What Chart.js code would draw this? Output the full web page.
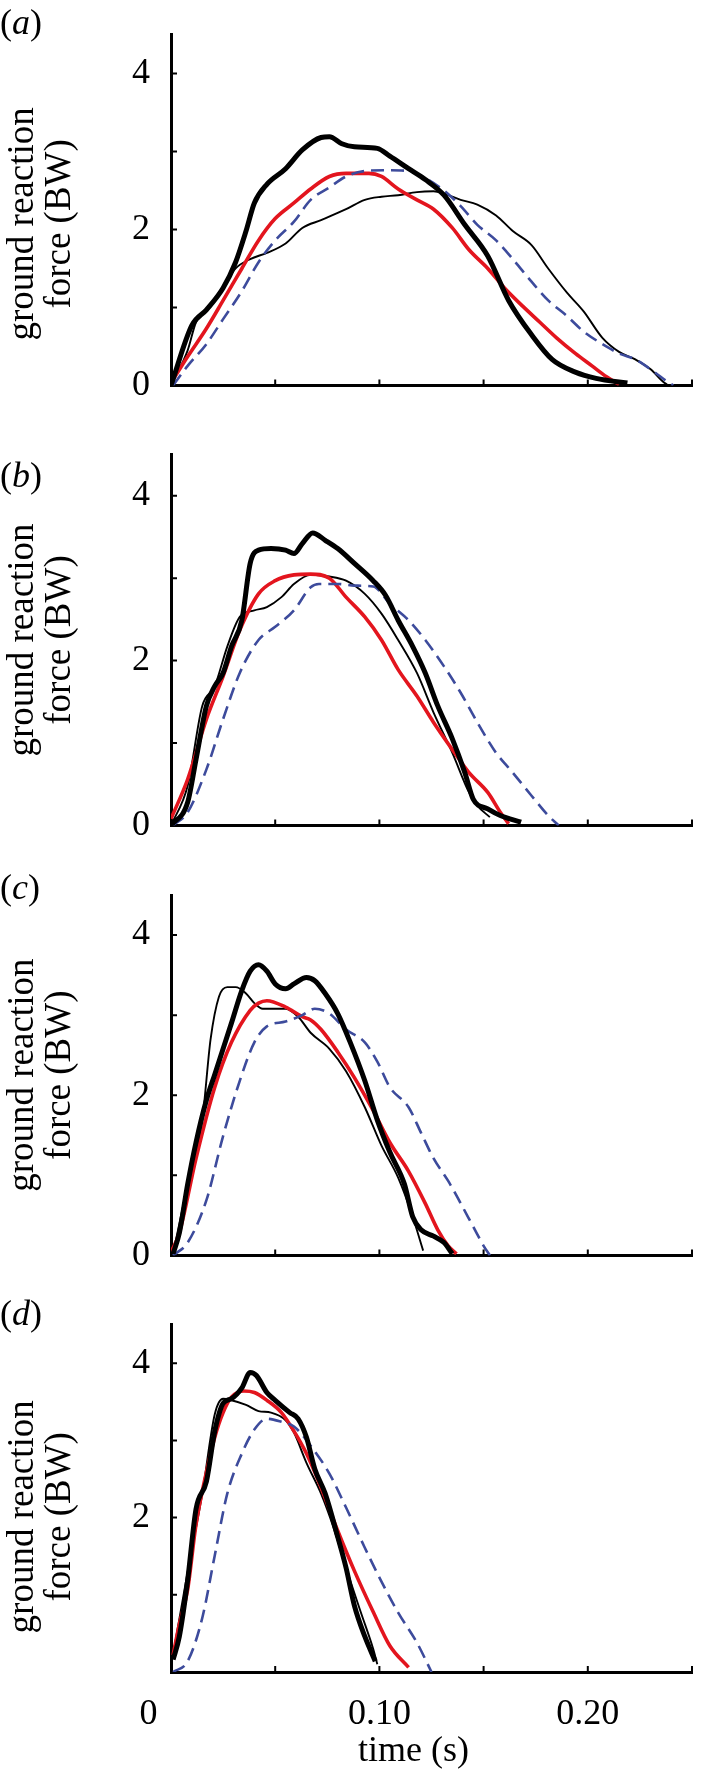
<!DOCTYPE html>
<html>
<head>
<meta charset="utf-8">
<script src="https://cdn.jsdelivr.net/npm/chart.js@4"></script>
<style>
  html, body { margin: 0; padding: 0; background: #fff; }
  #wrap { position: relative; width: 705px; height: 1770px; overflow: hidden; }
  .panel { position: absolute; left: 0; width: 705px; }
  .lab { position: absolute; left: 0; font-family: 'Liberation Serif', 'Times New Roman', serif; font-size: 36px; line-height: 36px; color: #000; }
  .lab i { font-style: italic; }
</style>
</head>
<body>
<div id="wrap"></div>
<script>
// ---------- DATA (time in s, force in BW) ----------
// Panel (a)
const aThickT = [0.000,0.010,0.017,0.025,0.031,0.036,0.040,0.046,0.055,0.063,0.072,0.076,0.082,0.088,0.099,0.105,0.114,0.122,0.131,0.141,0.152,0.162,0.173,0.183,0.194,0.204,0.219];
const aThickF = [0.00,0.77,0.97,1.25,1.58,1.98,2.34,2.58,2.78,3.02,3.18,3.19,3.10,3.06,3.04,2.94,2.78,2.64,2.44,2.06,1.66,1.09,0.65,0.33,0.17,0.09,0.03];
const aThinT  = [0.000,0.008,0.012,0.019,0.025,0.031,0.038,0.046,0.055,0.063,0.072,0.084,0.093,0.101,0.109,0.118,0.126,0.131,0.139,0.147,0.156,0.164,0.173,0.181,0.190,0.198,0.207,0.215,0.223,0.230,0.236,0.238];
const aThinF  = [0.00,0.45,0.81,1.01,1.25,1.50,1.62,1.70,1.82,2.02,2.12,2.26,2.38,2.42,2.44,2.48,2.49,2.46,2.38,2.32,2.18,1.98,1.80,1.50,1.19,0.95,0.61,0.43,0.33,0.21,0.05,0.01];
const aRedT   = [0.000,0.008,0.017,0.025,0.034,0.042,0.050,0.059,0.067,0.076,0.084,0.095,0.101,0.109,0.118,0.126,0.135,0.143,0.152,0.160,0.169,0.177,0.185,0.194,0.202,0.209,0.215];
const aRedF   = [0.03,0.37,0.73,1.09,1.50,1.86,2.14,2.34,2.52,2.68,2.72,2.72,2.68,2.52,2.38,2.26,2.02,1.74,1.50,1.25,1.01,0.81,0.61,0.41,0.25,0.11,0.01];
const aBlueT  = [0.001,0.008,0.017,0.025,0.034,0.042,0.050,0.059,0.067,0.076,0.084,0.093,0.105,0.114,0.122,0.131,0.139,0.147,0.156,0.164,0.173,0.181,0.190,0.198,0.207,0.215,0.223,0.232,0.238,0.241];
const aBlueF  = [0.00,0.25,0.53,0.85,1.21,1.58,1.86,2.10,2.38,2.54,2.68,2.75,2.76,2.75,2.66,2.50,2.30,2.06,1.86,1.62,1.33,1.09,0.89,0.69,0.53,0.41,0.33,0.17,0.05,0.00];
// Panel (b)
const bThickT = [0.000,0.008,0.012,0.017,0.021,0.025,0.029,0.034,0.038,0.042,0.048,0.055,0.059,0.063,0.068,0.074,0.080,0.088,0.097,0.103,0.109,0.116,0.122,0.128,0.135,0.141,0.145,0.152,0.158,0.168];
const bThickF = [0.00,0.28,0.80,1.45,1.69,1.85,2.17,2.49,3.18,3.34,3.36,3.34,3.30,3.42,3.55,3.46,3.36,3.18,2.97,2.79,2.49,2.17,1.85,1.45,1.05,0.64,0.32,0.20,0.12,0.04];
const bThinT  = [0.000,0.008,0.015,0.021,0.027,0.033,0.040,0.046,0.053,0.059,0.067,0.076,0.084,0.093,0.101,0.109,0.118,0.126,0.135,0.143,0.147,0.153];
const bThinF  = [0.00,0.48,1.45,1.69,2.17,2.53,2.61,2.65,2.77,2.93,3.04,3.02,2.97,2.81,2.57,2.25,1.85,1.37,0.88,0.40,0.24,0.10];
const bRedT   = [0.000,0.008,0.017,0.025,0.033,0.042,0.050,0.059,0.067,0.076,0.084,0.093,0.101,0.109,0.118,0.126,0.135,0.143,0.152,0.158,0.162];
const bRedF   = [0.08,0.56,1.29,1.81,2.37,2.81,2.97,3.04,3.05,3.00,2.77,2.53,2.25,1.89,1.57,1.25,0.92,0.64,0.40,0.16,0.02];
const bBlueT  = [0.001,0.008,0.017,0.025,0.033,0.042,0.050,0.059,0.067,0.071,0.080,0.088,0.097,0.105,0.114,0.122,0.131,0.139,0.147,0.156,0.164,0.173,0.181,0.186];
const bBlueF  = [0.00,0.16,0.68,1.29,1.85,2.25,2.41,2.61,2.89,2.93,2.93,2.91,2.90,2.69,2.49,2.25,1.93,1.61,1.25,0.88,0.64,0.36,0.12,0.00];
// Panel (c)
const cThickT = [0.001,0.004,0.008,0.012,0.017,0.021,0.025,0.029,0.034,0.038,0.042,0.046,0.050,0.055,0.059,0.065,0.069,0.074,0.080,0.086,0.093,0.099,0.105,0.112,0.116,0.120,0.126,0.131,0.135];
const cThickF = [0.02,0.28,0.89,1.41,1.94,2.26,2.58,2.90,3.31,3.55,3.63,3.55,3.39,3.33,3.39,3.47,3.43,3.27,3.02,2.66,2.18,1.69,1.29,0.89,0.48,0.32,0.24,0.16,0.02];
const cThinT  = [0.001,0.008,0.015,0.019,0.023,0.027,0.031,0.036,0.040,0.044,0.055,0.061,0.067,0.076,0.084,0.093,0.101,0.109,0.116,0.121];
const cThinF  = [0.02,0.89,1.69,2.70,3.23,3.35,3.35,3.27,3.15,3.08,3.08,2.98,2.78,2.58,2.30,1.85,1.37,0.97,0.48,0.06];
const cRedT   = [0.000,0.004,0.012,0.021,0.029,0.038,0.042,0.046,0.055,0.063,0.067,0.072,0.080,0.088,0.097,0.105,0.114,0.122,0.128,0.133,0.137];
const cRedF   = [0.04,0.28,1.21,2.10,2.66,3.06,3.15,3.18,3.10,2.98,2.94,2.82,2.54,2.22,1.81,1.41,1.05,0.65,0.32,0.12,0.02];
const cBlueT  = [0.001,0.008,0.017,0.025,0.033,0.040,0.046,0.055,0.063,0.069,0.076,0.084,0.093,0.099,0.105,0.114,0.120,0.126,0.133,0.139,0.145,0.150,0.153];
const cBlueF  = [0.00,0.16,0.69,1.49,2.18,2.66,2.86,2.92,3.00,3.08,3.02,2.82,2.66,2.42,2.10,1.85,1.53,1.21,0.93,0.65,0.36,0.12,0.00];
// Panel (d)
const dThickT = [0.001,0.004,0.008,0.012,0.017,0.021,0.025,0.029,0.034,0.038,0.041,0.046,0.050,0.057,0.061,0.065,0.069,0.074,0.080,0.084,0.088,0.093,0.098];
const dThickF = [0.16,0.46,1.19,2.11,2.47,3.12,3.48,3.54,3.68,3.88,3.84,3.62,3.52,3.36,3.28,3.04,2.63,2.31,1.75,1.35,0.86,0.46,0.14];
const dThinT  = [0.001,0.008,0.015,0.021,0.025,0.029,0.036,0.042,0.048,0.055,0.059,0.065,0.072,0.078,0.084,0.091,0.097,0.099];
const dThinF  = [0.22,1.30,2.31,3.34,3.54,3.52,3.46,3.38,3.36,3.26,3.10,2.71,2.31,1.87,1.35,0.78,0.30,0.10];
const dRedT   = [0.001,0.004,0.008,0.012,0.017,0.021,0.025,0.029,0.035,0.040,0.046,0.053,0.059,0.065,0.072,0.080,0.088,0.097,0.105,0.114];
const dRedF   = [0.22,0.62,1.07,1.91,2.59,3.04,3.36,3.56,3.64,3.62,3.52,3.36,3.12,2.83,2.39,1.83,1.31,0.78,0.34,0.06];
const dBlueT  = [0.001,0.008,0.015,0.021,0.027,0.034,0.040,0.046,0.053,0.059,0.067,0.076,0.084,0.093,0.101,0.109,0.118,0.125];
const dBlueF  = [0.00,0.14,0.70,1.51,2.31,2.83,3.14,3.28,3.24,3.18,2.93,2.57,2.13,1.61,1.17,0.77,0.38,0.00];

// Axis tick labels and titles
const yTickLabels = [0, 2, 4];
const xTickLabels = [0, 0.10, 0.20];
const panelLetters = ['a', 'b', 'c', 'd'];
const yTitleLines = ['ground reaction', 'force (BW)'];
const xTitle = 'time (s)';

// ---------- LAYOUT ----------
const panels = [
  { top: 0,    h: 420, areaTop: 25, areaBottom: 397, labY: 22, titleShift: 3,
    series: [[aThickT,aThickF],[aThinT,aThinF],[aRedT,aRedF],[aBlueT,aBlueF]] },
  { top: 420,  h: 440, areaTop: 34, areaBottom: 407, labY: 55, titleShift: 0,
    series: [[bThickT,bThickF],[bThinT,bThinF],[bRedT,bRedF],[bBlueT,bBlueF]] },
  { top: 860,  h: 430, areaTop: 35, areaBottom: 407, labY: 27, titleShift: 0,
    series: [[cThickT,cThickF],[cThinT,cThinF],[cRedT,cRedF],[cBlueT,cBlueF]] },
  { top: 1290, h: 480, areaTop: 10, areaBottom: 382, labY: 23, titleShift: 4,
    series: [[dThickT,dThickF],[dThinT,dThinF],[dRedT,dRedF],[dBlueT,dBlueF]] }
];

const styles = [
  { borderColor: '#000000', borderWidth: 5,   order: 0 },
  { borderColor: '#000000', borderWidth: 1.9, order: 3 },
  { borderColor: '#e3151e', borderWidth: 3.6, order: 2 },
  { borderColor: '#3d4b9c', borderWidth: 2.6, order: 1, borderDash: [13, 7] }
];

const FONT = "'Liberation Serif', 'Times New Roman', serif";
const near = (a, b) => Math.abs(a - b) < 1e-6;
const NB = '\u00a0';

const inwardTicks = {
  id: 'inwardTicks',
  afterDraw(chart) {
    const { ctx, chartArea: a, scales } = chart;
    const x = scales.x, y = scales.y;
    ctx.save();
    ctx.strokeStyle = '#000';
    ctx.lineWidth = 2;
    ctx.beginPath();
    x.ticks.forEach(t => {
      const px = x.getPixelForValue(t.value);
      if (px > a.left + 3 && px <= a.right + 1) { ctx.moveTo(px, a.bottom); ctx.lineTo(px, a.bottom - 6); }
    });
    y.ticks.forEach(t => {
      const py = y.getPixelForValue(t.value);
      if (py < a.bottom - 3) { ctx.moveTo(a.left, py); ctx.lineTo(a.left + 6, py); }
    });
    ctx.stroke();
    ctx.restore();
  }
};

const wrap = document.getElementById('wrap');
panels.forEach((p, idx) => {
  const isLast = idx === panels.length - 1;
  const div = document.createElement('div');
  div.className = 'panel';
  div.style.top = p.top + 'px';
  div.style.height = p.h + 'px';
  const cv = document.createElement('canvas');
  cv.width = 705; cv.height = p.h;
  cv.style.width = '705px'; cv.style.height = p.h + 'px';
  div.appendChild(cv);
  const lab = document.createElement('div');
  lab.className = 'lab';
  lab.style.top = (p.labY - 18) + 'px';
  lab.innerHTML = '(<i>' + panelLetters[idx] + '</i>)';
  div.appendChild(lab);
  wrap.appendChild(div);

  const xh = p.h - p.areaBottom;
  const datasets = p.series.map((s, i) => Object.assign({
    data: s[0].map((t, k) => ({ x: t, y: s[1][k] })),
    pointRadius: 0,
    fill: false,
    cubicInterpolationMode: 'monotone',
    borderJoinStyle: 'round',
    borderCapStyle: 'butt'
  }, styles[i]));

  new Chart(cv, {
    type: 'line',
    data: { datasets },
    plugins: [inwardTicks],
    options: {
      responsive: false,
      animation: false,
      devicePixelRatio: 1,
      layout: { padding: { top: p.areaTop, left: 0, right: 1, bottom: 0 } },
      plugins: { legend: { display: false }, tooltip: { enabled: false } },
      scales: {
        x: {
          type: 'linear', min: 0, max: 0.25,
          afterFit(s) { s.height = xh; },
          grid: { display: false },
          border: { display: true, color: '#000', width: 3 },
          ticks: {
            stepSize: 0.05, autoSkip: false, maxRotation: 0, minRotation: 0, includeBounds: false,
            padding: 13, color: '#000', font: { family: FONT, size: 36 },
            callback: (v) => {
              if (!isLast) return '';
              if (near(v, xTickLabels[0])) return '0' + NB.repeat(5);
              if (near(v, xTickLabels[1])) return '0.10';
              if (near(v, xTickLabels[2])) return '0.20';
              return '';
            }
          },
          title: {
            display: isLast, text: xTitle + NB.repeat(4), color: '#000',
            font: { family: FONT, size: 36, lineHeight: 1.0 }, padding: { top: 0, bottom: 0 }
          }
        },
        y: {
          type: 'linear', min: 0, max: 4.5,
          afterFit(s) { s.width = 171; },
          grid: { display: false },
          border: { display: true, color: '#000', width: 3 },
          ticks: {
            stepSize: 1, autoSkip: false, includeBounds: false,
            padding: 13, color: '#000', font: { family: FONT, size: 36 },
            callback: (v) => {
              if (isLast && near(v, 0)) return '';
              return yTickLabels.some(l => near(v, l)) ? String(v) : '';
            }
          },
          title: {
            display: true, text: yTitleLines.map(l => l + NB.repeat(p.titleShift)), color: '#000',
            font: { family: FONT, size: 37, lineHeight: 1.02 }, padding: { top: 4, bottom: 0 }
          }
        }
      }
    }
  });
});
</script>
</body>
</html>
